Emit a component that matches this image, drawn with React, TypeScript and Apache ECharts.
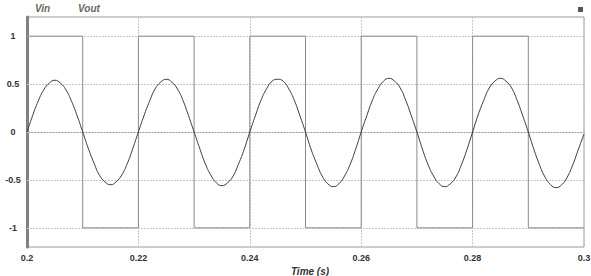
import React, { useEffect, useRef } from "react";
import * as echarts from "echarts";

// Vin: square wave switching times and levels (held until next time)
const vinTimes = [0.2, 0.21, 0.22, 0.23, 0.24, 0.25, 0.26, 0.27, 0.28, 0.29, 0.3];
const vinLevels = [1, -1, 1, -1, 1, -1, 1, -1, 1, -1, -1];

const voutStart = 0.2;
const voutStep = 0.001;
const voutValues = [
  0, 0.17, 0.32, 0.44, 0.51, 0.54, 0.51, 0.44, 0.32, 0.17,
  0, -0.17, -0.32, -0.45, -0.52, -0.55, -0.52, -0.45, -0.33, -0.17,
  0, 0.17, 0.32, 0.45, 0.52, 0.55, 0.52, 0.45, 0.33, 0.17,
  0, -0.17, -0.33, -0.45, -0.53, -0.56, -0.53, -0.46, -0.33, -0.18,
  0, 0.17, 0.33, 0.45, 0.53, 0.55, 0.53, 0.45, 0.33, 0.17,
  0, -0.18, -0.33, -0.46, -0.54, -0.57, -0.54, -0.46, -0.34, -0.18,
  0, 0.17, 0.33, 0.45, 0.53, 0.56, 0.53, 0.46, 0.33, 0.17,
  0, -0.18, -0.34, -0.46, -0.54, -0.57, -0.54, -0.47, -0.34, -0.18,
  0, 0.18, 0.33, 0.46, 0.53, 0.56, 0.53, 0.46, 0.33, 0.17,
  0, -0.18, -0.34, -0.47, -0.55, -0.58, -0.55, -0.47, -0.34, -0.18,
  -0.02,
];

const yTicks = [-1, -0.5, 0, 0.5, 1];
const seriesNames = ["Vin", "Vout"];
const xAxisName = "Time (s)";

export default function App() {
  const ref = useRef<HTMLDivElement>(null);
  useEffect(() => {
    if (!ref.current) return;
    const chart = echarts.init(ref.current, undefined, { renderer: "svg" });
    const vinData = vinTimes.map((t, i) => [t, vinLevels[i]]);
    const voutData = voutValues.map((v, i) => [
      +(voutStart + i * voutStep).toFixed(3),
      v,
    ]);
    chart.setOption({
      animation: false,
      backgroundColor: "#ffffff",
      grid: {
        left: 27,
        right: 7,
        top: 17,
        bottom: 29,
        containLabel: false,
        outerBoundsMode: "none",
        show: true,
        borderColor: "#9a9a9a",
        borderWidth: 1,
      },
      xAxis: {
        type: "value",
        min: 0.2,
        max: 0.3,
        interval: 0.02,
        name: xAxisName,
        nameLocation: "middle",
        nameGap: 17,
        nameTextStyle: {
          fontFamily: "Liberation Sans, Arial, sans-serif",
          fontWeight: "bold",
          fontStyle: "italic",
          fontSize: 10,
          color: "#333",
          padding: [0, 0, 0, 9],
        },
        axisLine: { show: true, lineStyle: { color: "#9a9a9a", width: 1 } },
        axisTick: { show: false },
        axisLabel: {
          margin: 6,
          fontFamily: "Liberation Sans, Arial, sans-serif",
          fontWeight: "bold",
          fontSize: 9,
          color: "#333",
          formatter: (v: number) => String(+v.toFixed(2)),
        },
        splitLine: {
          show: true,
          lineStyle: { color: "#c8c8c8", type: [2, 1], width: 1 },
        },
      },
      yAxis: {
        type: "value",
        min: -1.2,
        max: 1.2,
        axisLine: { show: true, lineStyle: { color: "#808080", width: 3 } },
        axisTick: { show: false },
        splitLine: { show: false },
        axisLabel: {
          customValues: yTicks,
          align: "center",
          margin: 14,
          fontFamily: "Liberation Sans, Arial, sans-serif",
          fontWeight: "bold",
          fontSize: 9,
          color: "#333",
          formatter: (v: number) => String(v),
        },
      },
      graphic: [
        {
          type: "text",
          left: 35,
          top: 3,
          style: {
            text: seriesNames[0],
            font: "italic bold 10px 'Liberation Sans', Arial, sans-serif",
            fill: "#666",
          },
        },
        {
          type: "text",
          left: 78,
          top: 3,
          style: {
            text: seriesNames[1],
            font: "italic bold 10px 'Liberation Sans', Arial, sans-serif",
            fill: "#666",
          },
        },
        {
          type: "rect",
          left: 578,
          top: 7,
          shape: { width: 5, height: 5 },
          style: { fill: "#555" },
        },
      ],
      series: [
        {
          name: seriesNames[0],
          type: "line",
          step: "end",
          data: vinData,
          showSymbol: false,
          symbol: "none",
          lineStyle: { color: "#8a8a8a", width: 1 },
          z: 2,
          markLine: {
            silent: true,
            symbol: "none",
            label: { show: false },
            lineStyle: { color: "#c8c8c8", type: [2, 1], width: 1 },
            data: yTicks.map((y) => ({ yAxis: y })),
            z: 1,
          },
        },
        {
          name: seriesNames[1],
          type: "line",
          data: voutData,
          smooth: true,
          showSymbol: false,
          symbol: "none",
          lineStyle: { color: "#3a3a3a", width: 1 },
          z: 3,
        },
      ],
    });
    return () => chart.dispose();
  }, []);
  return (
    <div
      ref={ref}
      style={{ position: "fixed", left: 0, top: 0, width: 591, height: 276 }}
    />
  );
}
